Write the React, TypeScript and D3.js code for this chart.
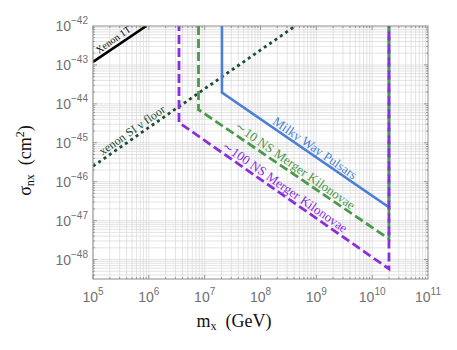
import React from "react";
import * as d3 from "d3";

// log10 exponents for the axes
const xDecades = [5, 6, 7, 8, 9, 10, 11];
const yDecades = [-42, -43, -44, -45, -46, -47, -48];

// curves: [mass (GeV), sigma (cm^2)]
const xenon1T: [number, number][] = [[1e5, 1.2e-43], [9e5, 1e-42]];
const xenonFloor: [number, number][] = [[1e5, 2.5e-46], [4.2e8, 1e-42]];
const pulsars: [number, number][] = [[2.04e7, 1e-42], [2.04e7, 1.95e-44], [2e10, 2.2e-47], [2e10, 1e-42]];
const kilonovae10: [number, number][] = [[7.76e6, 1e-42], [7.76e6, 7.1e-45], [2e10, 3.4e-48], [2e10, 1e-42]];
const kilonovae100: [number, number][] = [[3.47e6, 1e-42], [3.47e6, 3.3e-45], [2e10, 5.75e-49], [2e10, 1e-42]];

// text labels placed along the curves: [mass, sigma, text, color, size, rising]
const labels: [number, number, string, string, number, boolean][] = [
  [2.3e5, 4.5e-43, "Xenon 1T", "#000", 10, true],
  [5.0e5, 2.1e-45, "xenon SI ν floor", "#1f4d33", 12, true],
  [9.5e8, 7.4e-46, "Milky Way Pulsars", "#4a80d6", 13, false],
  [4.2e8, 2.6e-46, "∼10 NS Merger Kilonovae", "#4a9a4a", 13, false],
  [2.75e8, 7.4e-47, "∼100 NS Merger Kilonovae", "#8a2fdc", 13, false],
];

const W = 457;
const H = 350;
const margin = { top: 26, right: 29, bottom: 71, left: 93 };

export default function App() {
  const x = d3.scaleLog().domain([1e5, 1e11]).range([margin.left, W - margin.right]);
  const y = d3.scaleLog().domain([Math.pow(10, -48.5), 1e-42]).range([H - margin.bottom, margin.top]);
  const [x0, x1] = x.range();
  const [y0, y1] = y.range();

  const line = d3
    .line<[number, number]>()
    .x((d) => x(d[0]))
    .y((d) => y(d[1]));

  // minor grid values
  const xMinor: number[] = [];
  for (let e = 5; e < 11; e++) for (let k = 1; k < 10; k++) xMinor.push(k * Math.pow(10, e));
  const yMinor: number[] = [];
  for (let e = -49; e < -42; e++)
    for (let k = 1; k < 10; k++) {
      const v = k * Math.pow(10, e);
      if (v >= Math.pow(10, -48.5) && v <= 1e-42) yMinor.push(v);
    }

  const angle = (Math.atan((y(1e-45) - y(1e-44)) / (x(1e6) - x(1e5))) * 180) / Math.PI;

  return (
    <svg width={W} height={H} style={{ position: "absolute", left: 0, top: 0, background: "#fff" }}>
      <defs>
        <clipPath id="plot">
          <rect x={x0} y={y1} width={x1 - x0} height={y0 - y1} />
        </clipPath>
      </defs>

      {/* grid */}
      <g stroke="#dcdcdc" strokeWidth={0.8}>
        {xMinor.map((v, i) => (
          <line key={"xg" + i} x1={x(v)} x2={x(v)} y1={y1} y2={y0} />
        ))}
        {yMinor.map((v, i) => (
          <line key={"yg" + i} x1={x0} x2={x1} y1={y(v)} y2={y(v)} />
        ))}
      </g>

      {/* inner ticks */}
      <g stroke="#888" strokeWidth={0.8}>
        {xMinor.map((v, i) => {
          const major = i % 9 === 0;
          const l = major ? 4 : 2;
          return (
            <g key={"xt" + i}>
              <line x1={x(v)} x2={x(v)} y1={y0} y2={y0 - l} />
              <line x1={x(v)} x2={x(v)} y1={y1} y2={y1 + l} />
            </g>
          );
        })}
        {yMinor.map((v, i) => {
          const major = Math.abs(Math.log10(v) - Math.round(Math.log10(v))) < 1e-6;
          const l = major ? 4 : 2;
          return (
            <g key={"yt" + i}>
              <line x1={x0} x2={x0 + l} y1={y(v)} y2={y(v)} />
              <line x1={x1} x2={x1 - l} y1={y(v)} y2={y(v)} />
            </g>
          );
        })}
      </g>

      {/* curves */}
      <g clipPath="url(#plot)" fill="none">
        <path d={line(xenon1T)!} stroke="#000" strokeWidth={2.6} />
        <path d={line(xenonFloor)!} stroke="#1f4d33" strokeWidth={2.8} strokeDasharray="3 3.5" />
        <path d={line(pulsars)!} stroke="#4a80d6" strokeWidth={2.6} />
        <path d={line(kilonovae10)!} stroke="#4a9a4a" strokeWidth={2.8} strokeDasharray="9 4" />
        <path d={line(kilonovae100)!} stroke="#8a2fdc" strokeWidth={2.8} strokeDasharray="9 4" strokeDashoffset={4} />
      </g>

      {/* curve labels */}
      {labels.map(([m, s, t, c, fs, up], i) => (
        <text
          key={"lb" + i}
          transform={`translate(${x(m)},${y(s)}) rotate(${up ? -angle : angle})`}
          textAnchor="middle"
          dominantBaseline="central"
          fontFamily="Liberation Serif, serif"
          fontSize={fs}
          fill={c}
        >
          {t}
        </text>
      ))}

      {/* frame */}
      <rect x={x0} y={y1} width={x1 - x0} height={y0 - y1} fill="none" stroke="#8c8c8c" strokeWidth={1} />

      {/* tick labels */}
      <g fontFamily="Liberation Sans, Arial, sans-serif" fill="#707070">
        {xDecades.map((e) => (
          <text key={"xl" + e} x={x(Math.pow(10, e))} y={y0 + 23} textAnchor="middle" fontSize={14}>
            10
            <tspan dy={-7} fontSize={10}>
              {e}
            </tspan>
          </text>
        ))}
        {yDecades.map((e) => (
          <text key={"yl" + e} x={x0 - 5} y={y(Math.pow(10, e)) + 5} textAnchor="end" fontSize={14}>
            10
            <tspan dy={-7} fontSize={10}>
              {"\u2212" + Math.abs(e)}
            </tspan>
          </text>
        ))}
      </g>

      {/* axis titles */}
      <text
        x={234}
        y={327}
        textAnchor="middle"
        fontFamily="Liberation Serif, serif"
        fontSize={18}
        fill="#111"
        style={{ whiteSpace: "pre" }}
      >
        m
        <tspan fontSize={12} dy={3}>x</tspan>
        <tspan dy={-3}>{"  (GeV)"}</tspan>
      </text>
      <text
        transform={`translate(31,${(y0 + y1) / 2 + 8}) rotate(-90)`}
        textAnchor="middle"
        fontFamily="Liberation Serif, serif"
        fontSize={18}
        fill="#111"
        style={{ whiteSpace: "pre" }}
      >
        σ
        <tspan fontSize={12} dy={3}>nx</tspan>
        <tspan dy={-3}>{"  (cm"}</tspan>
        <tspan fontSize={12} dy={-7}>2</tspan>
        <tspan dy={7}>)</tspan>
      </text>
    </svg>
  );
}
